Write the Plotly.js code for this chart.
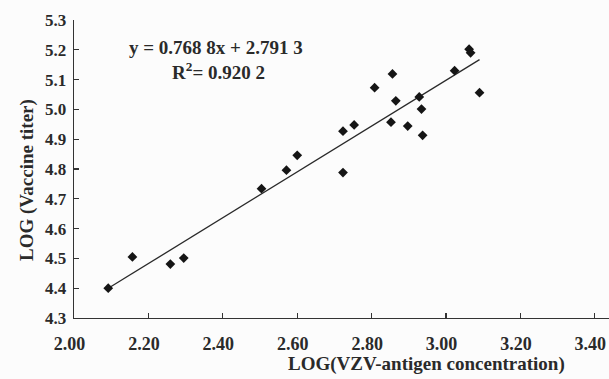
<!DOCTYPE html>
<html>
<head>
<meta charset="utf-8">
<script src="https://cdn.plot.ly/plotly-3.0.1.min.js"></script>
<style>html,body{margin:0;padding:0;background:#fcfcfc;}#chart{width:609px;height:379px;}</style>
</head>
<body>
<div id="chart"></div>
<script>
// Data
const antigenLog = [2.092, 2.157, 2.259, 2.295, 2.504, 2.571, 2.600, 2.723, 2.723, 2.753, 2.808, 2.856, 2.852, 2.865, 2.897, 2.928, 2.934, 2.937, 3.023, 3.062, 3.066, 3.090];
const titerLog   = [4.400, 4.505, 4.481, 4.501, 4.734, 4.796, 4.846, 4.788, 4.927, 4.948, 5.073, 5.119, 4.957, 5.029, 4.944, 5.042, 5.001, 4.913, 5.130, 5.202, 5.190, 5.056];
const slope = 0.7688;
const intercept = 2.7913;
const equationText = "y = 0.768 8x + 2.791 3";
const r2Text = "R<sup>2</sup>= 0.920 2";
const xTickVals = [2.0, 2.2, 2.4, 2.6, 2.8, 3.0, 3.2, 3.4];
const xTickText = ["2.00", "2.20", "2.40", "2.60", "2.80", "3.00", "3.20", "3.40"];
const yTickVals = [4.3, 4.4, 4.5, 4.6, 4.7, 4.8, 4.9, 5.0, 5.1, 5.2, 5.3];
const yTickText = ["4.3", "4.4", "4.5", "4.6", "4.7", "4.8", "4.9", "5.0", "5.1", "5.2", "5.3"];
const xTitle = "LOG(VZV-antigen concentration)";
const yTitle = "LOG (Vaccine titer)";

const xMin = Math.min(...antigenLog), xMax = Math.max(...antigenLog);
const fitX = [xMin, xMax];
const fitY = fitX.map(v => slope * v + intercept);

const fam = "Liberation Serif, Times New Roman, serif";
const txtColor = "#2a2a2a";
const bold = s => "<b>" + s + "</b>";

const traces = [
  {x: fitX, y: fitY, mode: "lines", type: "scatter", line: {color: "#2a2a2a", width: 1.3}, hoverinfo: "skip"},
  {x: antigenLog, y: titerLog, mode: "markers", type: "scatter",
   marker: {symbol: "diamond", size: 7.5, color: "#151515"}}
];

const axisCommon = {
  showgrid: false, zeroline: false, showline: true, linecolor: "#333", linewidth: 1.3,
  ticks: "inside", ticklen: 5, tickcolor: "#333", tickwidth: 1.2,
  automargin: false, ticklabeloverflow: "allow"
};

const layout = {
  width: 609, height: 379,
  margin: {l: 74, r: 0, t: 20, b: 61},
  paper_bgcolor: "#fcfcfc", plot_bgcolor: "#fcfcfc",
  showlegend: false,
  font: {family: fam, size: 16, color: txtColor},
  xaxis: Object.assign({}, axisCommon, {
    range: [2.0, 3.438], tickvals: xTickVals,
    ticktext: xTickText.map(s => bold(s) + "\u00A0\u00A0"),
    tickfont: {family: fam, size: 18, color: txtColor},
    ticklabelstandoff: 9
  }),
  yaxis: Object.assign({}, axisCommon, {
    range: [4.3, 5.3], tickvals: yTickVals, ticktext: yTickText.map(bold),
    tickfont: {family: fam, size: 17, color: txtColor},
    ticklabelstandoff: 3
  }),
  annotations: [
    {xref: "paper", yref: "paper", x: 0.658, y: -0.153, xanchor: "center", yanchor: "middle",
     text: bold(xTitle), showarrow: false, font: {family: fam, size: 19, color: txtColor}},
    {xref: "paper", yref: "paper", x: -0.088, y: 0.463, xanchor: "center", yanchor: "middle", textangle: -90,
     text: bold(yTitle), showarrow: false, font: {family: fam, size: 19, color: txtColor}},
    {xref: "paper", yref: "paper", x: 0.265, y: 0.909, xanchor: "center", yanchor: "middle",
     text: bold(equationText), showarrow: false, font: {family: fam, size: 19, color: txtColor}},
    {xref: "paper", yref: "paper", x: 0.27, y: 0.829, xanchor: "center", yanchor: "middle",
     text: bold(r2Text), showarrow: false, font: {family: fam, size: 19, color: txtColor}}
  ]
};

Plotly.newPlot("chart", traces, layout, {displayModeBar: false, staticPlot: true});
</script>
</body>
</html>
